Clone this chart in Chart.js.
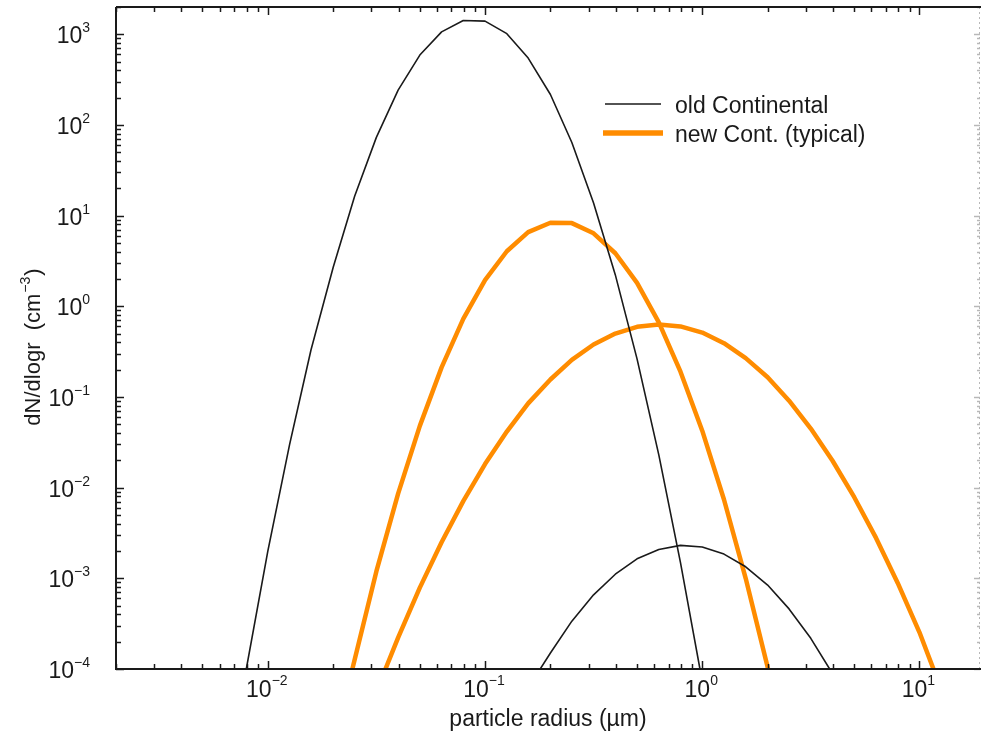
<!DOCTYPE html>
<html><head><meta charset="utf-8">
<script src="https://cdn.jsdelivr.net/npm/chart.js@4/dist/chart.umd.min.js"></script>
<style>html,body{margin:0;padding:0;background:#fff;}#wrap{width:981px;height:736px;position:relative;}</style>
</head><body><div id="wrap"><canvas id="c" width="981" height="736"></canvas></div>
<script>
// ---- data (radius in µm, dN/dlogr in cm^-3) ----
const radiusOldFine = [0.00796, 0.01, 0.0126, 0.0158, 0.02, 0.0251, 0.0316, 0.0398, 0.0501, 0.0631, 0.0794, 0.1, 0.126, 0.158, 0.2, 0.251, 0.316, 0.398, 0.501, 0.631, 0.794, 0.976];
const dNOldFine = [1e-4, 2.0e-3, 0.030, 0.33, 2.7, 16.4, 73, 242, 590, 1064, 1419, 1397, 1016, 547, 217, 64, 13.8, 2.22, 0.263, 0.023, 1.49e-3, 1e-4];

const radiusOldCoarse = [0.1795, 0.2, 0.251, 0.316, 0.398, 0.501, 0.631, 0.794, 1.0, 1.259, 1.585, 2.0, 2.51, 3.16, 3.86];
const dNOldCoarse = [1e-4, 1.5e-4, 3.37e-4, 6.58e-4, 1.11e-3, 1.64e-3, 2.08e-3, 2.31e-3, 2.22e-3, 1.85e-3, 1.34e-3, 8.43e-4, 4.6e-4, 2.18e-4, 1e-4];

const radiusNewFine = [0.0245, 0.0316, 0.0398, 0.0501, 0.0631, 0.0794, 0.1, 0.126, 0.158, 0.2, 0.251, 0.316, 0.398, 0.501, 0.631, 0.794, 1.0, 1.259, 1.585, 2.01];
const dNNewFine = [1e-4, 1.19e-3, 8.6e-3, 0.048, 0.212, 0.726, 1.94, 4.05, 6.58, 8.35, 8.27, 6.38, 3.85, 1.81, 0.664, 0.19, 0.0425, 7.4e-3, 1.0e-3, 1e-4];

const radiusNewCoarse = [0.0348, 0.0398, 0.0501, 0.0631, 0.0794, 0.1, 0.126, 0.158, 0.2, 0.251, 0.316, 0.398, 0.501, 0.631, 0.794, 1.0, 1.259, 1.585, 2.0, 2.51, 3.16, 3.98, 5.01, 6.31, 7.94, 10.0, 11.6];
const dNNewCoarse = [1e-4, 2.22e-4, 7.9e-4, 2.5e-3, 7.1e-3, 0.0182, 0.0415, 0.085, 0.156, 0.257, 0.379, 0.501, 0.594, 0.631, 0.600, 0.513, 0.392, 0.268, 0.165, 0.091, 0.0448, 0.0198, 7.85e-3, 2.79e-3, 8.9e-4, 2.54e-4, 1e-4];

const xTickExponents = [-2, -1, 0, 1];
const yTickExponents = [-4, -3, -2, -1, 0, 1, 2, 3];
const legendLabels = ['old Continental', 'new Cont. (typical)'];
const xTitle = 'particle radius (µm)';
const yTitleMain = 'dN/dlogr  (cm';
const yTitleExp = '\u22123';
const yTitleEnd = ')';

const BLACK = '#1a1a1a';
const ORANGE = '#ff8c00';
const FONT = '"Liberation Sans", Arial, sans-serif';

function pts(xs, ys) { return xs.map((x, i) => ({x: x, y: ys[i]})); }
function expText(e) { return (e < 0 ? '\u2212' : '') + Math.abs(e); }

const axesPlugin = {
  id: 'axesPlugin',
  afterDraw(chart) {
    const ctx = chart.ctx, a = chart.chartArea, xs = chart.scales.x, ys = chart.scales.y;
    const W = chart.width;
    ctx.save();
    // right axis: faint dotted
    ctx.strokeStyle = '#b8b8b8'; ctx.lineWidth = 1; ctx.setLineDash([2, 3]);
    ctx.beginPath(); ctx.moveTo(a.right - 0.5, a.top); ctx.lineTo(a.right - 0.5, a.bottom); ctx.stroke();
    ctx.setLineDash([]);
    // ticks
    ctx.lineWidth = 1.5;
    for (let e = -5; e <= 4; e++) {
      for (let m = 1; m <= 9; m++) {
        const v = m * Math.pow(10, e);
        const len = m === 1 ? 8 : 5;
        if (v >= xs.min && v <= xs.max) {
          const px = Math.round(xs.getPixelForValue(v)) + 0.5;
          ctx.strokeStyle = BLACK;
          ctx.beginPath(); ctx.moveTo(px, a.bottom); ctx.lineTo(px, a.bottom - len); ctx.stroke();
          ctx.beginPath(); ctx.moveTo(px, a.top); ctx.lineTo(px, a.top + len); ctx.stroke();
        }
        if (v >= ys.min && v <= ys.max) {
          const py = Math.round(ys.getPixelForValue(v)) + 0.5;
          ctx.strokeStyle = BLACK;
          ctx.beginPath(); ctx.moveTo(a.left, py); ctx.lineTo(a.left + len, py); ctx.stroke();
          ctx.strokeStyle = '#b8b8b8';
          ctx.beginPath(); ctx.moveTo(a.right, py); ctx.lineTo(a.right - len + 2, py); ctx.stroke();
        }
      }
    }
    // frame
    ctx.strokeStyle = BLACK; ctx.lineWidth = 2;
    ctx.beginPath(); ctx.moveTo(a.left, a.top); ctx.lineTo(a.left, a.bottom); ctx.lineTo(W, a.bottom); ctx.stroke();
    ctx.beginPath(); ctx.moveTo(a.left, a.top); ctx.lineTo(W, a.top); ctx.stroke();

    // tick labels
    ctx.fillStyle = BLACK; ctx.textBaseline = 'alphabetic';
    const big = '23px ' + FONT, small = '14px ' + FONT;
    xTickExponents.forEach(e => {
      const px = xs.getPixelForValue(Math.pow(10, e));
      ctx.font = big; const w1 = ctx.measureText('10').width;
      ctx.font = small; const w2 = ctx.measureText(expText(e)).width;
      const x0 = px - (w1 + w2) / 2 - 1;
      ctx.textAlign = 'left';
      ctx.font = big; ctx.fillText('10', x0, 697);
      ctx.font = small; ctx.fillText(expText(e), x0 + w1, 685);
    });
    yTickExponents.forEach(e => {
      const py = ys.getPixelForValue(Math.pow(10, e));
      ctx.font = small; const w2 = ctx.measureText(expText(e)).width;
      ctx.textAlign = 'right';
      ctx.fillText(expText(e), 90, py - 2);
      ctx.font = big; ctx.fillText('10', 90 - w2, py + 9);
    });

    // x title
    ctx.font = big; ctx.textAlign = 'center';
    ctx.fillText(xTitle, (a.left + a.right) / 2, 726);

    // y title (rotated)
    ctx.save();
    ctx.translate(40, 348); ctx.rotate(-Math.PI / 2);
    const yBig = '22px ' + FONT, ySmall = '14px ' + FONT;
    ctx.font = yBig; const t1 = ctx.measureText(yTitleMain).width, t3 = ctx.measureText(yTitleEnd).width;
    ctx.font = ySmall; const t2 = ctx.measureText(yTitleExp).width;
    let sx = -(t1 + t2 + t3) / 2;
    ctx.textAlign = 'left';
    ctx.font = yBig; ctx.fillText(yTitleMain, sx, 0);
    ctx.font = ySmall; ctx.fillText(yTitleExp, sx + t1 + 1, -10);
    ctx.font = yBig; ctx.fillText(yTitleEnd, sx + t1 + t2 + 2, 0);
    ctx.restore();

    // legend
    const ds = chart.data.datasets;
    ctx.lineCap = 'butt';
    ctx.strokeStyle = ds[0].borderColor; ctx.lineWidth = 1.5;
    ctx.beginPath(); ctx.moveTo(605, 104); ctx.lineTo(661, 104); ctx.stroke();
    ctx.strokeStyle = ds[2].borderColor; ctx.lineWidth = 5.5;
    ctx.beginPath(); ctx.moveTo(603, 133); ctx.lineTo(663, 133); ctx.stroke();
    ctx.font = big; ctx.textAlign = 'left'; ctx.fillStyle = BLACK;
    ctx.fillText(legendLabels[0], 675, 113);
    ctx.fillText(legendLabels[1], 675, 141.5);
    ctx.restore();
  }
};

new Chart(document.getElementById('c'), {
  type: 'line',
  data: {
    datasets: [
      {label: legendLabels[0], data: pts(radiusOldFine, dNOldFine), borderColor: BLACK, borderWidth: 1.6},
      {label: legendLabels[0], data: pts(radiusOldCoarse, dNOldCoarse), borderColor: BLACK, borderWidth: 1.6},
      {label: legendLabels[1], data: pts(radiusNewFine, dNNewFine), borderColor: ORANGE, borderWidth: 4.5},
      {label: legendLabels[1], data: pts(radiusNewCoarse, dNNewCoarse), borderColor: ORANGE, borderWidth: 4.5}
    ].map(d => Object.assign(d, {pointRadius: 0, tension: 0, fill: false, borderJoinStyle: 'round'}))
  },
  options: {
    responsive: false, animation: false, devicePixelRatio: 1,
    layout: {padding: {left: 116, right: 1, top: 7, bottom: 67}},
    plugins: {legend: {display: false}, tooltip: {enabled: false}},
    scales: {
      x: {type: 'logarithmic', min: 0.002, max: 19,
          ticks: {display: false}, grid: {display: false, drawTicks: false}, border: {display: false}},
      y: {type: 'logarithmic', min: 1e-4, max: 2000,
          ticks: {display: false}, grid: {display: false, drawTicks: false}, border: {display: false}}
    }
  },
  plugins: [axesPlugin]
});
</script></body></html>
